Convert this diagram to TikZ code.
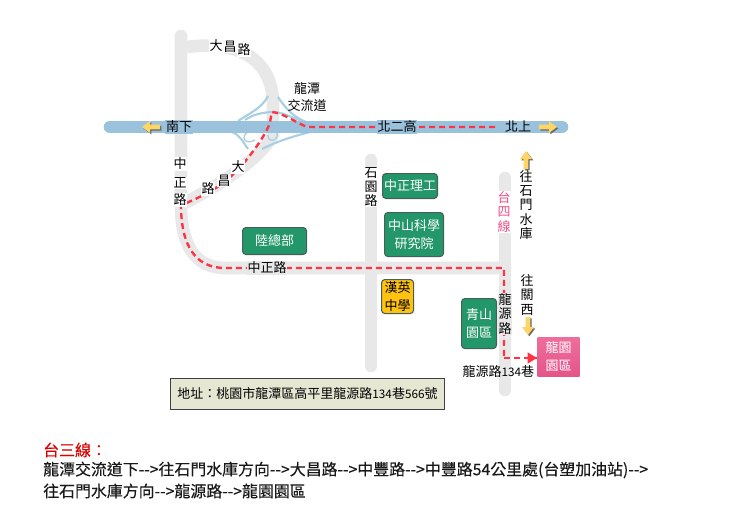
\documentclass[tikz,border=0pt]{standalone}
\usepackage{fontspec}
\setmainfont{Noto Sans CJK TC}
\newfontfamily\routefont[FakeBold=0.25]{Noto Sans CJK TC}
\usetikzlibrary{arrows.meta}
\definecolor{roadgrey}{HTML}{E8E8E8}
\definecolor{hwblue}{HTML}{9BC2DC}
\definecolor{ramp}{HTML}{A9CFE3}
\definecolor{routered}{HTML}{FF3344}
\definecolor{boxgreen}{HTML}{239769}
\definecolor{boxedge}{HTML}{44605A}
\definecolor{arrowyellow}{HTML}{FFD566}
\definecolor{addrfill}{HTML}{E6E7D3}
\definecolor{schoolyellow}{HTML}{FFC20E}
\definecolor{pinktop}{HTML}{EE6E9A}
\definecolor{pinkbot}{HTML}{E4558A}
\definecolor{tfour}{HTML}{EE4E86}
\tikzset{
  road/.style={line width=9.5pt,roadgrey,line cap=round},
  highway/.style={line width=9.5pt,hwblue,line cap=round},
  rampline/.style={line width=1.6pt,ramp},
  route/.style={line width=1.8pt,routered,dash pattern=on 4.5pt off 3pt},
  lbl/.style={font=\fontsize{9.75}{10.6}\selectfont,inner sep=0.5pt,align=center,text=black},
  onwhite/.style={lbl,fill=white},
  ongrey/.style={lbl,fill=roadgrey},
  onblue/.style={lbl,fill=hwblue},
  place/.style={rounded corners=2.5pt,draw=boxedge,line width=0.8pt,fill=boxgreen,text=white,
     font=\fontsize{9.75}{13.5}\selectfont,align=center,inner sep=0pt,anchor=north west},
  yarrow/.style={fill=arrowyellow},
  yshadow/.style={fill=black!60},
  routetext/.style={anchor=west,inner sep=0pt,font=\routefont\fontsize{11.93}{14}\selectfont,text=black!90},
}
\newcommand{\blockarrow}[3]{%
  \begin{scope}[shift={(#1+1.3,#2+1.3)},rotate=#3]
    \path[yshadow] (-9,-2.4)--(1,-2.4)--(1,-6)--(9,0)--(1,6)--(1,2.4)--(-9,2.4)--cycle;
  \end{scope}
  \begin{scope}[shift={(#1,#2)},rotate=#3]
    \path[yarrow] (-9,-2.4)--(1,-2.4)--(1,-6)--(9,0)--(1,6)--(1,2.4)--(-9,2.4)--cycle;
  \end{scope}}
\newcommand{\smalldigits}[1]{{\fontsize{8.8}{12}\selectfont #1}}
\begin{document}
\begin{tikzpicture}[x=0.75pt,y=-0.75pt]
\useasboundingbox (0,0) rectangle (730,531);
% route way points
\coordinate (rStart) at (495,127);
\coordinate (rRamp) at (307,127);
\coordinate (rTop) at (272,112);
\coordinate (rJoin) at (181,205);
\coordinate (rBend) at (225,268);
\coordinate (rCorner) at (504,268);
\coordinate (rDown) at (504,358);
% roads
\draw[road] (181,36) -- (181,205) .. controls (181,245) and (195,268) .. (225,268) -- (505,268);
\draw[road,line cap=butt] (187,47) .. controls (240,40) and (273,60) .. (273,105) -- (273,135)
   .. controls (262,155) and (230,180) .. (181,205);
\draw[road] (371,160) -- (371,366);
\draw[road] (505,178) -- (505,390);
% interchange ramps
\draw[rampline] (238,121) .. controls (250,113) and (262,108) .. (268,96);
\draw[rampline] (245,120) .. controls (252,115) and (262,112) .. (275,112)
   .. controls (285,113) and (297,120) .. (310,124);
\draw[rampline] (278,97) .. controls (285,108) and (296,120) .. (310,123);
\draw[rampline] (232,132) .. controls (240,135) and (243,142) .. (248,149);
\draw[rampline] (310,132) .. controls (295,136) and (280,140) .. (262,149);
\draw[rampline,line width=1pt] (248,132) .. controls (240,136) and (245,146) .. (255,140);
\draw[rampline,line width=1pt] (268,135) .. controls (268,144) and (279,141) .. (277,133);
% highway
\draw[highway] (110,127) -- (562,127);
% route
\draw[route] (rStart) -- (rRamp) .. controls (295,122) and (283,113) .. (rTop)
   .. controls (270,118) and (272,122) .. (264,135) .. controls (255,150) and (240,170) .. (222,184)
   .. controls (210,192) and (195,200) .. (rJoin)
   .. controls (181,245) and (195,268) .. (rBend) -- (rCorner) -- (rDown);
% labels on the roads
\node[onblue] (nan) at (179,127) {南下};
\node[onblue] (bei2) at (397,127) {北二高};
\node[onblue] (beis) at (518,127) {北上};
\node[onwhite] (dcA) at (216,46) {大};
\node[onwhite] (dcB) at (230,47) {昌};
\node[onwhite] (dcC) at (244,50) {路};
\node[onwhite] (ltA) at (307,89) {龍潭};
\node[lbl] (ltB) at (307,106) {交流道};
\node[onwhite] (zzA) at (180,164) {中};
\node[onwhite] (zzB) at (180,183) {正};
\node[onwhite] (zzC) at (180,200) {路};
\node[onwhite] (dlA) at (238,167) {大};
\node[onwhite] (dlB) at (224,181) {昌};
\node[onwhite] (dlC) at (208,189) {路};
\node[ongrey] (zzroad) at (267,268) {中正路};
\node[onwhite] (sy) at (371,187) {石\\園\\路};
\node[onwhite,text=tfour] (t4) at (504,212) {台\\四\\線};
\node[lbl] (sm) at (526,205) {往\\石\\門\\水\\庫};
\node[lbl] (gx) at (527,295) {往\\關\\西};
\node[ongrey] (ly) at (505,314) {龍\\源\\路};
% places
\node[place,minimum width=41.2pt,minimum height=18.7pt] (zz) at (382,173) {中正理工};
\node[place,minimum width=44.2pt,minimum height=33pt] (zs) at (384,212) {中山科學\\研究院};
\node[place,minimum width=48pt,minimum height=20.2pt] (lz) at (242,227) {陸總部};
\node[place,fill=schoolyellow,text=black,minimum width=24pt,minimum height=25.5pt] (hy) at (381,279) {漢英\\中學};
\node[place,minimum width=26.2pt,minimum height=37.5pt] (qs) at (461,298) {青山\\園區};
\node[place,draw=none,rounded corners=0pt,top color=pinktop,bottom color=pinkbot,minimum width=31.5pt,minimum height=29pt] (ly2) at (537,337) {龍園\\園區};
\node[lbl,anchor=east] (lyl) at (535,372) {龍源路\smalldigits{134}巷};
% final arrow
\coordinate (rEnd) at (ly2.west |- rDown);
\draw[route] (rDown) -- (rEnd);
\draw[route,dash pattern=,-{Triangle[length=7pt,width=8pt]}] (525,358) -- (rEnd);
% address
\node[draw=black!75,line width=0.8pt,fill=addrfill,anchor=north west,inner sep=0pt,text width=205.5pt,minimum height=23.2pt,align=left,
   font=\fontsize{9.75}{12}\selectfont,text=black] (addr) at (170,378) {\hspace{5.2pt}地址：桃園市龍潭區高平里龍源路\smalldigits{134}巷\smalldigits{566}號};
% block arrows
\blockarrow{151}{127}{180}
\blockarrow{548}{127}{0}
\blockarrow{526}{160}{90}
\blockarrow{528}{326}{-90}
% directions
\node[routetext,text=red!85!black] (ttl) at (43,450) {台三線：};
\node[routetext] (lineA) at (43,470) {龍潭交流道下-{}->往石門水庫方向-{}->大昌路-{}->中豐路-{}->中豐路54公里處(台塑加油站)-{}->};
\node[routetext] (lineB) at (43,491) {往石門水庫方向-{}->龍源路-{}->龍園園區};
\end{tikzpicture}
\end{document}
